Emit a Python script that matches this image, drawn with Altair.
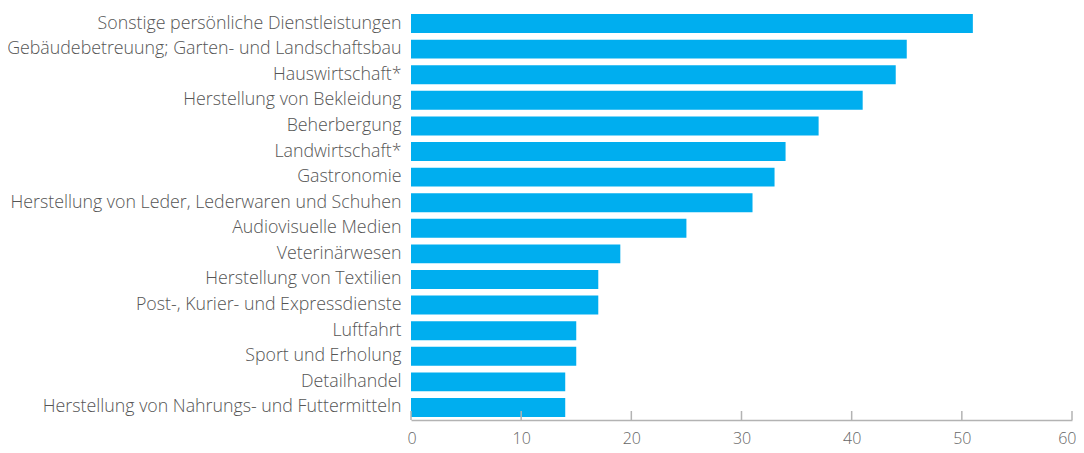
import altair as alt
import pandas as pd

categories = [
    "Sonstige persönliche Dienstleistungen",
    "Gebäudebetreuung; Garten- und Landschaftsbau",
    "Hauswirtschaft*",
    "Herstellung von Bekleidung",
    "Beherbergung",
    "Landwirtschaft*",
    "Gastronomie",
    "Herstellung von Leder, Lederwaren und Schuhen",
    "Audiovisuelle Medien",
    "Veterinärwesen",
    "Herstellung von Textilien",
    "Post-, Kurier- und Expressdienste",
    "Luftfahrt",
    "Sport und Erholung",
    "Detailhandel",
    "Herstellung von Nahrungs- und Futtermitteln",
]
values = [51, 45, 44, 41, 37, 34, 33, 31, 25, 19, 17, 17, 15, 15, 14, 14]
tick_values = [0, 10, 20, 30, 40, 50, 60]

df = pd.DataFrame({"cat": categories, "val": values})
ticks = pd.DataFrame({"t": tick_values})

W, H = 661, 409
FONT = "Open Sans"

xscale = alt.Scale(domain=[0, 60], nice=False)

bars = alt.Chart(df).mark_bar(color="#00AEEF").encode(
    x=alt.X("val:Q", scale=xscale,
            axis=alt.Axis(values=tick_values, title=None, grid=False, tickSize=0,
                          domainColor="#b3b3b3", domainWidth=1.5,
                          labelFont=FONT, labelFontSize=16, labelColor="#666666",
                          labelPadding=10, labelFontWeight=300,
                          labelFlush=True, labelFlushOffset=4)),
    y=alt.Y("cat:N", sort=categories,
            scale=alt.Scale(paddingInner=0.26, paddingOuter=0.12),
            axis=alt.Axis(title=None, ticks=False, domain=False, grid=False,
                          labelFont=FONT, labelFontSize=17.8, labelColor="#555555",
                          labelPadding=10, labelLimit=500, labelFontWeight=300)),
)

tick_rules = alt.Chart(ticks).mark_rule(color="#b3b3b3", strokeWidth=1.5).encode(
    x=alt.X("t:Q", scale=xscale),
    y=alt.value(H - 9),
    y2=alt.value(H),
)

chart = alt.layer(bars, tick_rules).properties(
    width=W, height=H,
    autosize=alt.AutoSizeParams(type="none"),
    padding={"left": 403, "top": 3, "right": 4, "bottom": 31},
).configure_view(stroke=None)

chart.save("out.html", embed_options={"renderer": "svg", "actions": False})
